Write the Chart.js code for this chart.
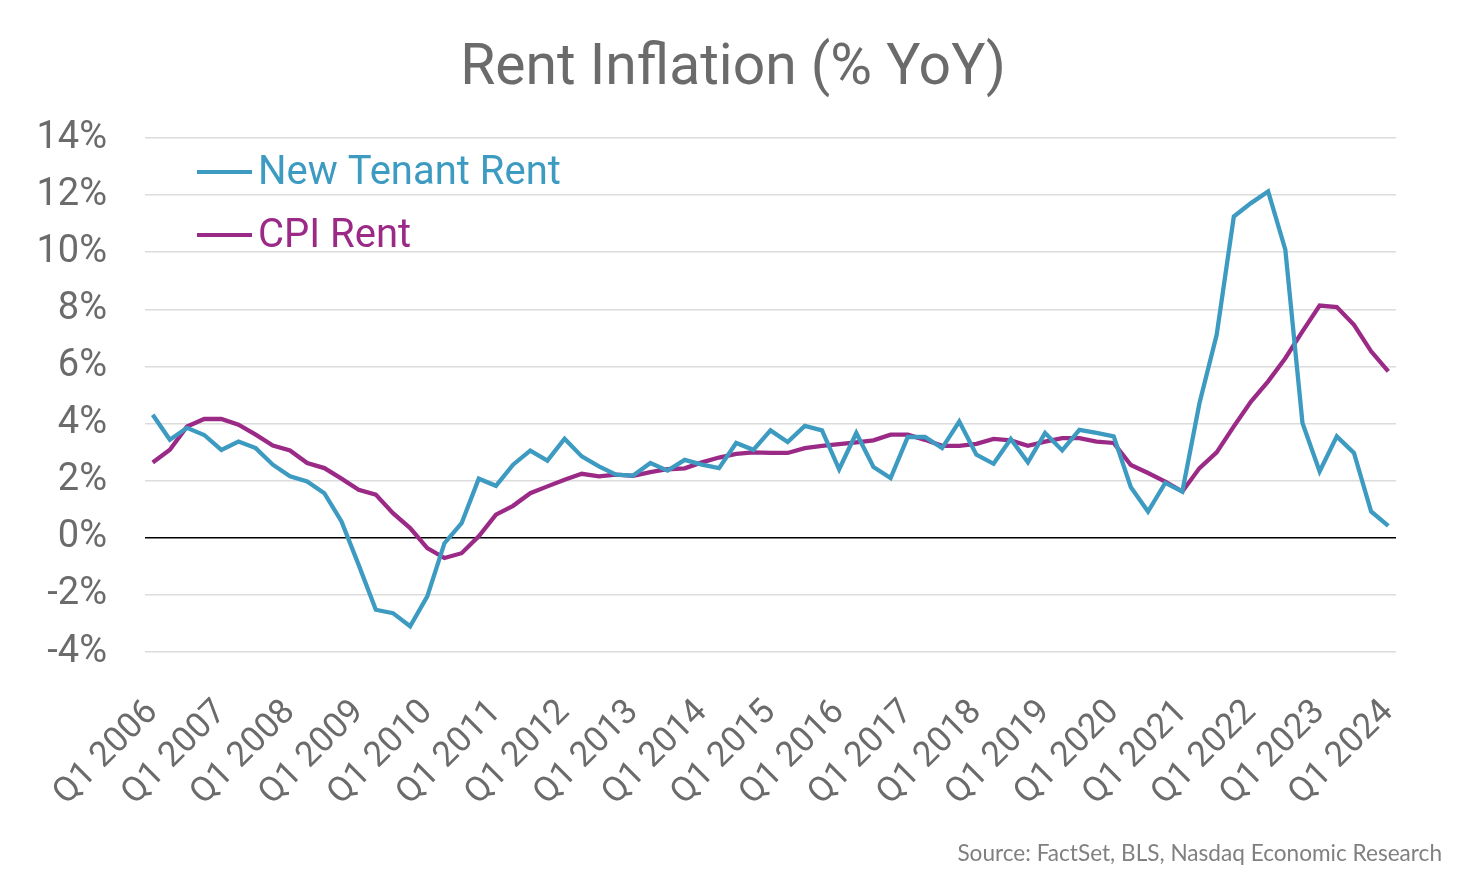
<!DOCTYPE html>
<html>
<head>
<meta charset="utf-8">
<script src="https://cdn.jsdelivr.net/npm/chart.js@4.4.1/dist/chart.umd.min.js"></script>
<style>
  body { margin: 0; background: #fff; }
  #wrap { position: relative; width: 1484px; height: 886px; }
  #title {
    position: absolute; left: 0; top: 33px; width: 1466px; text-align: center;
    font-family: Roboto, sans-serif; font-size: 57px; line-height: 64px; color: #6b6b6b;
  }
  #source {
    position: absolute; right: 42px; top: 838px;
    font-family: Lato, sans-serif; font-size: 22.6px; line-height: 30px; color: #808080;
  }
</style>
</head>
<body>
<div id="wrap">
  <canvas id="myChart" width="1484" height="886"></canvas>
  <div id="title">Rent Inflation (% YoY)</div>
  <div id="source">Source: FactSet, BLS, Nasdaq Economic Research</div>
</div>
<script>
// Quarterly, Q1 2006 .. Q1 2024
const years = [2006, 2007, 2008, 2009, 2010, 2011, 2012, 2013, 2014, 2015,
  2016, 2017, 2018, 2019, 2020, 2021, 2022, 2023, 2024];
const quarters = [];
years.forEach((y) => {
  for (let q = 1; q <= 4; q++) {
    if (y === 2024 && q > 1) break;
    quarters.push('Q' + q + ' ' + y);
  }
});

const tickLabels = ['Q1 2006', 'Q1 2007', 'Q1 2008', 'Q1 2009', 'Q1 2010', 'Q1 2011',
  'Q1 2012', 'Q1 2013', 'Q1 2014', 'Q1 2015', 'Q1 2016', 'Q1 2017', 'Q1 2018',
  'Q1 2019', 'Q1 2020', 'Q1 2021', 'Q1 2022', 'Q1 2023', 'Q1 2024'];

const newTenantRent = [4.31, 3.43, 3.85, 3.6, 3.08, 3.37, 3.14, 2.56, 2.15, 1.97,
  1.56, 0.57, -0.95, -2.52, -2.64, -3.1, -2.05, -0.19, 0.51, 2.07,
  1.82, 2.56, 3.05, 2.7, 3.47, 2.85, 2.5, 2.21, 2.18, 2.62,
  2.35, 2.73, 2.56, 2.44, 3.32, 3.08, 3.76, 3.35, 3.92, 3.76,
  2.4, 3.67, 2.48, 2.09, 3.53, 3.53, 3.14, 4.07, 2.91, 2.59,
  3.46, 2.64, 3.67, 3.06, 3.78, 3.67, 3.55, 1.77, 0.92, 1.92,
  1.62, 4.72, 7.11, 11.25, 11.72, 12.13, 10.09, 4.02, 2.32, 3.55,
  2.97, 0.92, 0.42];

const cpiRent = [2.64, 3.08, 3.9, 4.16, 4.16, 3.96, 3.61, 3.23, 3.06, 2.62,
  2.44, 2.07, 1.68, 1.51, 0.86, 0.34, -0.36, -0.71, -0.54, 0.05,
  0.81, 1.12, 1.56, 1.8, 2.03, 2.24, 2.15, 2.21, 2.17, 2.3,
  2.4, 2.43, 2.64, 2.81, 2.94, 2.99, 2.97, 2.97, 3.14, 3.22,
  3.28, 3.34, 3.41, 3.61, 3.61, 3.43, 3.22, 3.22, 3.29, 3.46,
  3.41, 3.22, 3.37, 3.49, 3.49, 3.37, 3.32, 2.55, 2.27, 1.97,
  1.62, 2.44, 2.99, 3.9, 4.77, 5.48, 6.29, 7.23, 8.13, 8.08,
  7.46, 6.53, 5.83];

const blue = '#3d9bc1';
const purple = '#9b2a87';

function toPoints(values) {
  return values.map((v, i) => ({ x: i, y: v, q: quarters[i] }));
}

// legend drawn inside the plot, top left
const inlineLegend = {
  id: 'inlineLegend',
  afterDraw(chart) {
    const ctx = chart.ctx;
    const area = chart.chartArea;
    ctx.save();
    chart.data.datasets.forEach((ds, i) => {
      const y = area.top + 34 + i * 63;
      ctx.strokeStyle = ds.borderColor;
      ctx.lineWidth = 4;
      ctx.beginPath();
      ctx.moveTo(area.left + 52, y);
      ctx.lineTo(area.left + 107, y);
      ctx.stroke();
      ctx.fillStyle = ds.borderColor;
      ctx.font = '40px Roboto';
      ctx.textBaseline = 'alphabetic';
      ctx.fillText(ds.label, area.left + 113, y + 12);
    });
    ctx.restore();
  }
};

const ctx = document.getElementById('myChart');

new Chart(ctx, {
  type: 'line',
  data: {
    datasets: [{
      label: 'New Tenant Rent',
      data: toPoints(newTenantRent),
      borderColor: blue,
      borderWidth: 4.3,
      pointRadius: 0,
      tension: 0
    }, {
      label: 'CPI Rent',
      data: toPoints(cpiRent),
      borderColor: purple,
      borderWidth: 4.3,
      pointRadius: 0,
      tension: 0
    }]
  },
  options: {
    responsive: false,
    animation: false,
    layout: { padding: { top: 138, right: 88, left: 0, bottom: 0 } },
    plugins: {
      legend: { display: false },
      tooltip: { enabled: false }
    },
    scales: {
      x: {
        type: 'linear',
        min: -0.45,
        max: 72.45,
        afterBuildTicks: (axis) => {
          axis.ticks = tickLabels.map((t, i) => ({ value: i * 4 }));
        },
        afterFit: (axis) => { axis.height = 234; },
        grid: { display: false },
        border: { display: false },
        ticks: {
          autoSkip: false,
          minRotation: 45,
          maxRotation: 45,
          padding: 32,
          color: '#6b6b6b',
          font: { family: 'Roboto', size: 35 },
          callback: (value) => tickLabels[value / 4]
        }
      },
      y: {
        min: -4,
        max: 14,
        afterFit: (axis) => { axis.width = 145; },
        border: { display: false },
        grid: {
          drawTicks: false,
          lineWidth: 1.5,
          color: (c) => c.tick && c.tick.value === 0 ? '#000000' : '#dcdcdc'
        },
        ticks: {
          stepSize: 2,
          padding: 38,
          color: '#6b6b6b',
          font: { family: 'Roboto', size: 38 },
          callback: (v) => v + '%'
        }
      }
    }
  },
  plugins: [inlineLegend]
});
</script>
</body>
</html>
